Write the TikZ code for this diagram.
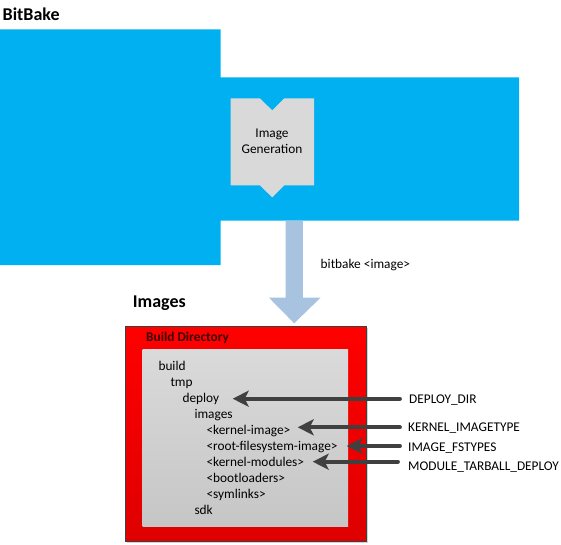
\documentclass[tikz,border=0pt]{standalone}
\usepackage{fontspec}
\setmainfont{Carlito}
\usetikzlibrary{arrows.meta}
\definecolor{bbblue}{HTML}{00B0F0}
\definecolor{genfill}{HTML}{D9D9D9}
\definecolor{flowblue}{HTML}{A7C3DF}
\definecolor{ptrgray}{HTML}{404040}
\definecolor{redtop}{HTML}{FF0000}
\definecolor{redbot}{HTML}{DE0000}
\definecolor{graytop}{HTML}{DADADA}
\definecolor{graybot}{HTML}{C6C6C6}
\definecolor{bdtext}{HTML}{3A0000}
\tikzset{
  txt/.style={inner sep=0pt, anchor=base west, font=\fontsize{13.33}{16}\selectfont},
  title/.style={inner sep=0pt, anchor=base west, font=\fontsize{18}{22}\selectfont\bfseries},
  ptr/.style={draw=ptrgray, line width=3.8pt, line cap=round,
    -{Stealth[length=16pt, width=16pt, inset=4pt]}},
}
\begin{document}
\begin{tikzpicture}[x=1pt, y=-1pt]
\useasboundingbox (0,0) rectangle (561,544);
% BitBake
\node[title] (bbtitle) at (2.5,20) {BitBake};
\fill[bbblue] (0,29.3) -- (220.5,29.3) -- (220.5,77.3) -- (519,77.3) -- (519,220.7)
  -- (220.5,220.7) -- (220.5,265) -- (0,265) -- cycle;
% Image generation node
\fill[genfill] (230.5,98.3) -- (259.8,98.3) -- (272.2,110.3) -- (284.3,98.3) -- (314.2,98.3)
  -- (314.2,185.3) -- (284.3,185.3) -- (272.2,197.3) -- (259.8,185.3) -- (230.5,185.3) -- cycle;
\node[inner sep=0pt, align=center, font=\fontsize{13.33}{16}\selectfont] (gen) at (272,141.5) {Image\\Generation};
% flow arrow
\fill[flowblue] (285.5,220.7) -- (302.8,220.7) -- (302.8,297.7) -- (320.5,297.7) -- (294.2,323.3)
  -- (269,297.7) -- (285.5,297.7) -- cycle;
\node[txt] (cmd) at (320.5,268.5) {bitbake <image>};
% Images
\node[title] (imgtitle) at (132.7,307.3) {Images};
\fill[gray!35] (126.5,327.5) rectangle (367.5,543);
\shade[top color=redtop, bottom color=redbot, draw=ptrgray, line width=0.8pt] (125,326) rectangle (366,541.7);
\node[inner sep=0pt, anchor=base west, font=\fontsize{13.33}{16}\selectfont\bfseries, text=bdtext] (bd) at (146,341) {Build Directory};
\shade[top color=graytop, bottom color=graybot] (142.7,349) rectangle (348,526);
% tree
\node[txt] (build) at (158.3,370) {build};
\node[txt] (tmp) at (170.3,386) {tmp};
\node[txt] (deploy) at (182.3,402) {deploy};
\node[txt] (images) at (194.3,418) {images};
\node[txt] (kimg) at (206.3,434) {<kernel-image>};
\node[txt] (rootfs) at (206.3,450) {<root-filesystem-image>};
\node[txt] (kmod) at (206.3,466) {<kernel-modules>};
\node[txt] (boot) at (206.3,482) {<bootloaders>};
\node[txt] (sym) at (206.3,498) {<symlinks>};
\node[txt] (sdk) at (194.3,514) {sdk};
% labels
\node[txt] (ldeploy) at (409,403.3) {DEPLOY\_DIR};
\node[txt] (lkernel) at (408,431.3) {KERNEL\_IMAGETYPE};
\node[txt] (lfs) at (408,451) {IMAGE\_FSTYPES};
\node[txt] (lmod) at (408,470) {MODULE\_TARBALL\_DEPLOY};
% arrows
\coordinate (t1) at (400,398.7);
\coordinate (h1) at (232.7,398.7);
\coordinate (t2) at (400,427.3);
\coordinate (h2) at (297.7,427.3);
\coordinate (t3) at (400,446);
\coordinate (h3) at (346.7,446);
\coordinate (t4) at (398,461.7);
\coordinate (h4) at (312.7,461.7);
\draw[ptr] (t1) -- (h1);
\draw[ptr] (t2) -- (h2);
\draw[ptr] (t3) -- (h3);
\draw[ptr] (t4) -- (h4);
\end{tikzpicture}
\end{document}
